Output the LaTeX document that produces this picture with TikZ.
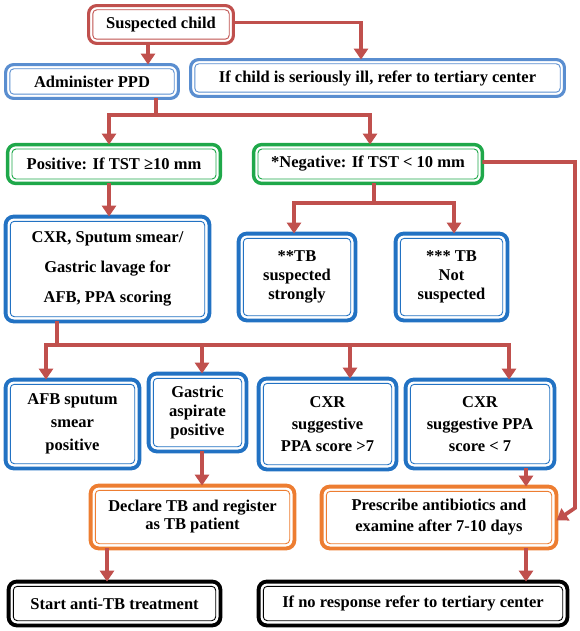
\documentclass[tikz,border=0pt]{standalone}
\usepackage{fontspec}
\setmainfont{Liberation Serif}
\usetikzlibrary{arrows.meta}
\definecolor{cred}{HTML}{C0504D}
\definecolor{cblue}{HTML}{2272C3}
\definecolor{clblue}{HTML}{5A8ED0}
\definecolor{cgreen}{HTML}{1FA84A}
\definecolor{corange}{HTML}{ED7D31}
\definecolor{cblack}{HTML}{000000}
\newcommand{\innerline}[3][4.2pt]{\draw[#3, line width=0.9pt, rounded corners=4pt] ([shift={(#1,-#1)}]#2.north west) rectangle ([shift={(-#1,#1)}]#2.south east);}
\begin{document}
\begin{tikzpicture}[x=1pt,y=-1pt,
  box/.style={draw=#1, line width=3.1pt, rounded corners=8pt, fill=white, align=center, inner sep=0pt, outer sep=0pt, font=\fontsize{16.5}{19}\selectfont\bfseries},
  tbox/.style={box=#1, line width=3.8pt},
  conn/.style={draw=cred, line width=3.7pt, line join=miter},
  arr/.style={conn, -{Triangle[width=14pt,length=11pt]}},
]
\useasboundingbox (0,0) rectangle (580,631);
\node[box=cred, minimum width=144.8pt, minimum height=37.8pt] (sc) at (161,24.5) {Suspected child};
\node[box=clblue, minimum width=172.8pt, minimum height=33.8pt] (ppd) at (92,81.5) {Administer PPD};
\node[box=clblue, minimum width=373.8pt, minimum height=36.8pt] (ill) at (377.5,78) {If child is seriously ill, refer to tertiary center};
\node[box=cgreen, line width=3.4pt, minimum width=212.8pt, minimum height=38.8pt] (pos) at (114,164) {Positive: If TST ≥10 mm};
\node[box=cgreen, line width=3.4pt, minimum width=228.8pt, minimum height=38.8pt] (neg) at (368,164) {*Negative: If TST < 10 mm};
\node[tbox=cblue, minimum width=203.8pt, minimum height=104.8pt] (cxr) at (107.5,269) {CXR, Sputum smear/\\[11pt]Gastric lavage for\\[11pt]AFB, PPA scoring};
\node[tbox=cblue, minimum width=116.8pt, minimum height=86.8pt] (tbs) at (297,277) {**TB\\suspected\\strongly};
\node[tbox=cblue, minimum width=111.8pt, minimum height=86.8pt] (tbn) at (451.5,277) {*** TB\\Not\\suspected};
\node[tbox=cblue, minimum width=133.8pt, minimum height=88.8pt] (afb) at (72.5,424) {AFB sputum\\[4pt]smear\\[4pt]positive};
\node[tbox=cblue, minimum width=97.8pt, minimum height=77.8pt] (gas) at (197.5,412.5) {Gastric\\aspirate\\positive};
\node[tbox=cblue, minimum width=137.8pt, minimum height=90.8pt] (c7) at (327.5,424) {CXR\\[3pt]suggestive\\[3pt]PPA score >7};
\node[tbox=cblue, minimum width=148.8pt, minimum height=88.8pt] (cl7) at (480,424) {CXR\\[3pt]suggestive PPA\\[3pt]score < 7};
\node[tbox=corange, minimum width=203.8pt, minimum height=62.8pt] (decl) at (192.5,517) {Declare TB and register\\[-1pt]as TB patient};
\node[tbox=corange, minimum width=234.8pt, minimum height=61.8pt] (presc) at (439,517.5) {Prescribe antibiotics and\\[2pt]examine after 7-10 days};
\node[tbox=cblack, minimum width=211.8pt, minimum height=43.8pt] (start) at (114.5,603.5) {Start anti-TB treatment};
\node[tbox=cblack, minimum width=308.8pt, minimum height=43.8pt] (nr) at (413,603.5) {If no response refer to tertiary center};
\innerline{sc}{cred}
\innerline{ppd}{clblue}
\innerline{ill}{clblue}
\innerline[4.4pt]{pos}{cgreen}
\innerline[4.4pt]{neg}{cgreen}
\innerline[4.7pt]{cxr}{cblue}
\innerline[4.7pt]{tbs}{cblue}
\innerline[4.7pt]{tbn}{cblue}
\innerline[4.7pt]{afb}{cblue}
\innerline[4.7pt]{gas}{cblue}
\innerline[4.7pt]{c7}{cblue}
\innerline[4.7pt]{cl7}{cblue}
\innerline[4.7pt]{decl}{corange}
\innerline[4.7pt]{presc}{corange}
\innerline[4.7pt]{start}{cblack}
\innerline[4.7pt]{nr}{cblack}
\coordinate (b1) at (0,115);
\coordinate (b2) at (0,203);
\coordinate (b3) at (0,345);
\coordinate (rb) at (575,508);
\draw[arr] ([xshift=-13pt]sc.south) -- ([xshift=-13pt]sc.south |- ppd.north);
\draw[arr] ([yshift=2pt]sc.east) -| ([xshift=-16.5pt]ill.north);
\draw[arr] ([xshift=64pt]ppd.south) -- ([xshift=64pt]ppd.south |- b1) -| ([xshift=-5pt]pos.north);
\draw[arr] ([xshift=64pt]ppd.south |- b1) -| ([xshift=2pt]neg.north);
\draw[arr] ([yshift=2pt]neg.east) -| (rb) -- ([yshift=-3pt]presc.east);
\draw[arr] ([xshift=6pt]neg.south) -- ([xshift=6pt]neg.south |- b2) -| ([xshift=-3pt]tbs.north);
\draw[arr] ([xshift=6pt]neg.south |- b2) -| ([xshift=2.5pt]tbn.north);
\draw[arr] ([xshift=-5pt]pos.south) -- ([xshift=-5pt]pos.south |- cxr.north);
\draw[arr] ([xshift=-50.5pt]cxr.south) -- ([xshift=-50.5pt]cxr.south |- b3) -| ([xshift=-26.5pt]afb.north);
\draw[arr] ([xshift=-50.5pt]cxr.south |- b3) -| ([xshift=4.5pt]gas.north);
\draw[arr] ([xshift=-50.5pt]cxr.south |- b3) -| ([xshift=22.5pt]c7.north);
\draw[arr] ([xshift=-50.5pt]cxr.south |- b3) -| ([xshift=29pt]cl7.north);
\draw[arr] ([xshift=4.5pt]gas.south) -- ([xshift=4.5pt]gas.south |- decl.north);
\draw[arr] ([xshift=46pt]cl7.south) -- ([xshift=46pt]cl7.south |- presc.north);
\draw[arr] ([xshift=-85.5pt]decl.south) -- ([xshift=-85.5pt]decl.south |- start.north);
\draw[arr] ([xshift=87pt]presc.south) -- ([xshift=87pt]presc.south |- nr.north);
\end{tikzpicture}
\end{document}
